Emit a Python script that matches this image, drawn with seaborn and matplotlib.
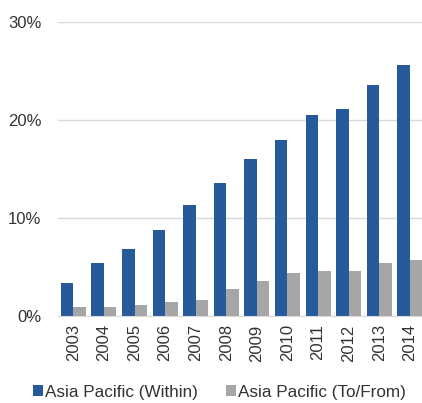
import matplotlib
matplotlib.use("Agg")
import matplotlib.pyplot as plt
import matplotlib.ticker as mticker
import seaborn as sns
import pandas as pd

years = ["2003", "2004", "2005", "2006", "2007", "2008",
         "2009", "2010", "2011", "2012", "2013", "2014"]
within = [3.4, 5.4, 6.8, 8.8, 11.3, 13.6, 16.0, 18.0, 20.5, 21.1, 23.6, 25.6]
to_from = [0.9, 0.9, 1.1, 1.4, 1.6, 2.8, 3.6, 4.4, 4.6, 4.6, 5.4, 5.7]
series = ["Asia Pacific (Within)", "Asia Pacific (To/From)"]
colors = ["#275A9B", "#A6A6A6"]

df = pd.DataFrame({
    "year": years * 2,
    "share": within + to_from,
    "series": [series[0]] * len(years) + [series[1]] * len(years),
})

sns.set_style("white")
plt.rcParams["font.family"] = ["Liberation Sans", "DejaVu Sans"]

fig = plt.figure(figsize=(4.22, 4.03), dpi=100)
ax = fig.add_axes([0.1375, 0.216, 0.870, 0.729])

sns.barplot(data=df, x="year", y="share", hue="series", order=years,
            hue_order=series, palette=colors, width=0.82, saturation=1,
            gap=0, linewidth=0, ax=ax, legend=True)

ax.set_ylim(0, 30)
ax.set_xlim(-0.5, len(years) - 0.5)
ax.yaxis.set_major_locator(mticker.MultipleLocator(10))
ax.yaxis.set_major_formatter(mticker.FuncFormatter(lambda v, _: f"{v:.0f}%"))
ax.grid(axis="y", color="#D9D9D9", linewidth=1)
ax.set_axisbelow(True)
for s in ["top", "right", "left"]:
    ax.spines[s].set_visible(False)
ax.spines["bottom"].set_color("#D9D9D9")
ax.set_xlabel("")
ax.set_ylabel("")
ax.tick_params(axis="x", rotation=90, labelsize=12, colors="#333333", length=0, pad=6)
ax.tick_params(axis="y", labelsize=12, colors="#333333", length=0, pad=12)

handles, labels = ax.get_legend_handles_labels()
ax.legend_.remove()
fig.legend(handles, labels, loc="center", bbox_to_anchor=(0.52, 0.027),
           ncol=2, frameon=False, fontsize=12.3, handlelength=0.6,
           handleheight=0.6, handletextpad=0.15, columnspacing=1.6,
           labelcolor="#333333")

fig.savefig("out.png", dpi=100)
